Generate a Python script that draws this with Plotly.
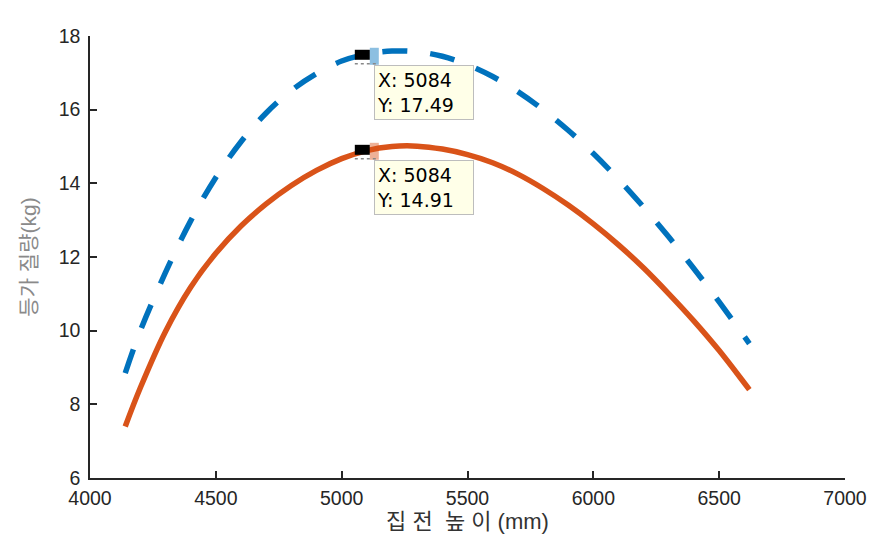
import plotly.graph_objects as go

# x: 집전 높이 (mm)
height_mm = [4140, 4200, 4300, 4400, 4500, 4600, 4700, 4800, 4900, 5000, 5100, 5200, 5300,
             5400, 5500, 5600, 5700, 5800, 5900, 6000, 6100, 6200, 6300, 6400, 6500, 6600, 6620]
# dashed blue series
mass_blue = [8.85, 10.00, 11.58, 12.98, 14.16, 15.13, 15.91, 16.52, 16.98, 17.32, 17.51, 17.59, 17.57,
             17.45, 17.22, 16.90, 16.49, 16.00, 15.44, 14.81, 14.11, 13.35, 12.54, 11.68, 10.78, 9.84, 9.65]
# solid orange series
mass_orange = [7.40, 8.45, 9.98, 11.18, 12.10, 12.84, 13.44, 13.94, 14.35, 14.67, 14.89, 15.00, 15.01,
               14.93, 14.78, 14.56, 14.25, 13.86, 13.41, 12.90, 12.33, 11.70, 11.00, 10.26, 9.46, 8.58, 8.40]

# data tips
tip_x = [5084, 5084]
tip_y = [17.49, 14.91]
tip_colors = ["#0072BD", "#D95319"]

x_ticks = [4000, 4500, 5000, 5500, 6000, 6500, 7000]
y_ticks = [6, 8, 10, 12, 14, 16, 18]

fig = go.Figure()
fig.add_trace(go.Scatter(x=height_mm, y=mass_blue, mode="lines", line_shape="spline",
                         line=dict(color="#0072BD", width=5.5, dash="25px,23px", smoothing=1.0),
                         hoverinfo="skip"))
fig.add_trace(go.Scatter(x=height_mm, y=mass_orange, mode="lines", line_shape="spline",
                         line=dict(color="#D95319", width=5.5, smoothing=1.0),
                         hoverinfo="skip"))

shapes = []
annotations = []
for tx, ty, col in zip(tip_x, tip_y, tip_colors):
    # black square marker of the datatip
    shapes.append(dict(type="rect", xref="x", yref="y", xsizemode="pixel", ysizemode="pixel",
                       xanchor=tx, yanchor=ty, x0=-8, x1=7, y0=-5, y1=5,
                       fillcolor="black", line=dict(width=0)))
    # checkered grip beside it
    shapes.append(dict(type="rect", xref="x", yref="y", xsizemode="pixel", ysizemode="pixel",
                       xanchor=tx, yanchor=ty, x0=7, x1=16, y0=-10, y1=7,
                       fillcolor=col, opacity=0.45, line=dict(width=0)))
    shapes.append(dict(type="line", xref="x", yref="y", xsizemode="pixel", ysizemode="pixel",
                       xanchor=tx, yanchor=ty, x0=-8, x1=16, y0=-9, y1=-9,
                       line=dict(color="#888888", width=1.5, dash="dot")))
    annotations.append(dict(x=tx, y=ty, xref="x", yref="y", showarrow=False,
                            xanchor="left", yanchor="top", xshift=11, yshift=-10,
                            text=f"X: {tx}<br>Y: {ty:.2f}", align="left",
                            width=94, height=49,
                            font=dict(family="DejaVu Sans", size=19, color="black"),
                            bgcolor="#FFFFE8", bordercolor="#BDBDBD", borderwidth=1, borderpad=2))

axis_common = dict(showline=True, linecolor="#262626", linewidth=1.5,
                   ticks="inside", ticklen=7, tickwidth=1.5, tickcolor="#262626",
                   showgrid=False, zeroline=False, mirror=False,
                   tickfont=dict(family="Liberation Sans, Arial", size=19.5, color="#262626"))

fig.update_layout(
    width=889, height=541,
    margin=dict(l=82, r=52, t=28, b=71),
    plot_bgcolor="white", paper_bgcolor="white",
    showlegend=False,
    shapes=shapes, annotations=annotations,
    xaxis=dict(range=[4000, 7000], tickvals=x_ticks, ticktext=[str(v) for v in x_ticks],
               title=dict(text="집 전  높 이 (mm)", standoff=4,
                          font=dict(family="Liberation Sans, Noto Sans CJK KR", size=22, color="#333333")),
               ticklabelstandoff=2,
               **axis_common),
    yaxis=dict(range=[6, 18], tickvals=y_ticks, ticktext=[str(v) for v in y_ticks],
               title=dict(text="등가 질량(kg)", standoff=16,
                          font=dict(family="Liberation Sans, Noto Sans CJK KR", size=21, color="#8a8a8a")),
               ticklabelstandoff=4,
               **axis_common),
)

fig.write_html("out.html")
